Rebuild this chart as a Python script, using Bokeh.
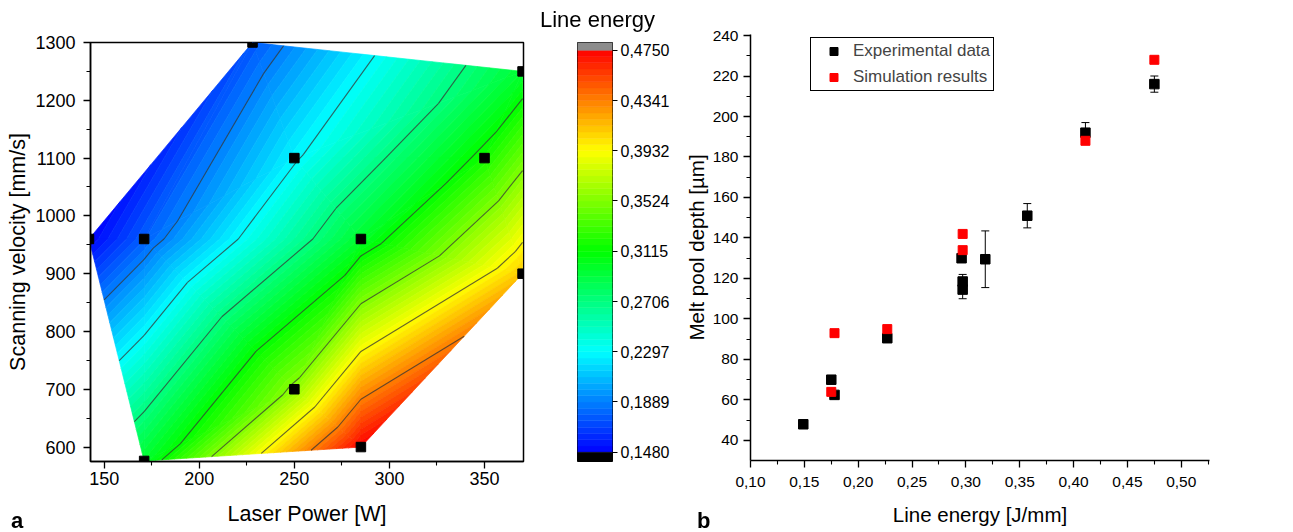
import numpy as np
from bokeh.plotting import figure
from bokeh.layouts import row, column
from bokeh.models import (Range1d, FixedTicker, Legend, LegendItem, Whisker, Div,
                          ColumnDataSource, CustomJSTickFormatter, TeeHead)
from bokeh.embed import file_html
from bokeh.resources import INLINE

FONT = "Liberation Sans"

# ---------------- data: panel a (process window) ----------------
laser_power = [142, 171, 228, 250, 350, 370, 370, 285, 250, 285, 171]
scan_velocity = [960, 960, 1300, 1100, 1100, 1250, 900, 960, 700, 600, 576]
point_energy = [0.148, 0.178, 0.175, 0.227, 0.318, 0.296, 0.411, 0.297, 0.357, 0.475, 0.297]
colorbar_ticks = [0.1480, 0.1889, 0.2297, 0.2706, 0.3115, 0.3524, 0.3932, 0.4341, 0.4750]
power_ticks = [150, 200, 250, 300, 350]
power_minor = [175, 225, 275, 325]
velocity_ticks = [600, 700, 800, 900, 1000, 1100, 1200, 1300]
velocity_minor = [650, 750, 850, 950, 1050, 1150, 1250]

# ---------------- data: panel b (melt pool depth) ----------------
exp_energy = [0.149, 0.175, 0.178, 0.227, 0.296, 0.297, 0.297, 0.318, 0.357, 0.411, 0.475]
exp_depth = [48, 70, 62.5, 90.5, 130, 118.5, 114.5, 129.5, 151, 192, 216]
exp_error = [1, 1.5, 1, 1.5, 2, 3.5, 4.5, 14, 6, 5, 4]
sim_energy = [0.175, 0.178, 0.227, 0.297, 0.297, 0.411, 0.475]
sim_depth = [64, 93, 95, 142, 134, 188, 228]
energy_ticks = [0.10, 0.15, 0.20, 0.25, 0.30, 0.35, 0.40, 0.45, 0.50]
energy_minor = [0.125, 0.175, 0.225, 0.275, 0.325, 0.375, 0.425, 0.475, 0.525]
depth_ticks = [40, 60, 80, 100, 120, 140, 160, 180, 200, 220, 240]
depth_minor = [50, 70, 90, 110, 130, 150, 170, 190, 210, 230]


# ---------------- helpers ----------------
def delaunay(px, py):
    px = np.asarray(px, float)
    py = np.asarray(py, float)
    u = (px - px.min()) / (px.max() - px.min())
    v = (py - py.min()) / (py.max() - py.min())
    pts = np.column_stack([u, v])
    n = len(pts)
    big = 1e3
    allp = np.vstack([pts, [[-big, -big], [big, -big], [0.5, big]]])
    tris = [(n, n + 1, n + 2)]

    def in_circle(t, p):
        a, b, c = allp[t[0]], allp[t[1]], allp[t[2]]
        m = np.array([[a[0] - p[0], a[1] - p[1], (a[0] - p[0]) ** 2 + (a[1] - p[1]) ** 2],
                      [b[0] - p[0], b[1] - p[1], (b[0] - p[0]) ** 2 + (b[1] - p[1]) ** 2],
                      [c[0] - p[0], c[1] - p[1], (c[0] - p[0]) ** 2 + (c[1] - p[1]) ** 2]])
        orient = (b[0] - a[0]) * (c[1] - a[1]) - (b[1] - a[1]) * (c[0] - a[0])
        return np.linalg.det(m) * orient > 1e-12

    for i in range(n):
        p = allp[i]
        bad = [t for t in tris if in_circle(t, p)]
        edges = {}
        for t in bad:
            for e in ((t[0], t[1]), (t[1], t[2]), (t[2], t[0])):
                k = tuple(sorted(e))
                edges[k] = edges.get(k, 0) + 1
        tris = [t for t in tris if t not in bad]
        for e, c in edges.items():
            if c == 1:
                tris.append((e[0], e[1], i))
    return [t for t in tris if max(t) < n]


def clip_poly(pts, zs, level, keep_above):
    out_p, out_z = [], []
    n = len(pts)
    for i in range(n):
        a, za = pts[i], zs[i]
        b, zb = pts[(i + 1) % n], zs[(i + 1) % n]
        ina = (za >= level) if keep_above else (za <= level)
        inb = (zb >= level) if keep_above else (zb <= level)
        if ina:
            out_p.append(a)
            out_z.append(za)
        if ina != inb:
            t = (level - za) / (zb - za)
            out_p.append((a[0] + t * (b[0] - a[0]), a[1] + t * (b[1] - a[1])))
            out_z.append(level)
    return out_p, out_z


ANCHORS = np.array([[0, 0, 255], [0, 255, 255], [0, 255, 0], [255, 255, 0], [255, 0, 0]], float)


def rainbow(t):
    s = min(max(t, 0.0), 1.0) * 4
    i = min(int(s), 3)
    f = s - i
    c = ANCHORS[i] * (1 - f) + ANCHORS[i + 1] * f
    return "#%02x%02x%02x" % tuple(int(round(x)) for x in c)


def style_axis(ax, font_size, label_size):
    ax.axis_line_color = "black"
    ax.axis_line_width = 1.5
    ax.major_tick_line_color = "black"
    ax.major_tick_line_width = 1.3
    ax.minor_tick_line_color = "black"
    ax.minor_tick_line_width = 1.1
    ax.major_tick_in = 0
    ax.major_tick_out = 7
    ax.minor_tick_in = 0
    ax.minor_tick_out = 4
    ax.major_label_text_font = FONT
    ax.major_label_text_font_size = font_size
    ax.major_label_text_color = "black"
    ax.axis_label_text_font = FONT
    ax.axis_label_text_font_size = label_size
    ax.axis_label_text_font_style = "normal"
    ax.axis_label_text_color = "black"


def fixed_text(text, left, top, size, weight="bold", width=30):
    html = ('<span style="font-family:\'Liberation Sans\',Arial,sans-serif;font-size:%dpx;'
            'font-weight:%s;line-height:%dpx;color:#000;white-space:nowrap;">%s</span>'
            % (size, weight, size, text))
    return Div(text=html, width=width, height=size + 2,
               styles={"position": "fixed", "left": "%dpx" % left, "top": "%dpx" % top,
                       "margin": "0", "padding": "0"})


# ---------------- panel a ----------------
lo_e, hi_e = colorbar_ticks[0], colorbar_ticks[-1]
levels = np.linspace(lo_e, hi_e, 65)
band_colors = [rainbow((k + 0.5) / 64) for k in range(64)]

tris = delaunay(laser_power, scan_velocity)
patch_xs, patch_ys, patch_c = [], [], []
line_xs, line_ys = [], []
for t in tris:
    tp = [(laser_power[i], scan_velocity[i]) for i in t]
    tz = [point_energy[i] for i in t]
    for k in range(64):
        p1_, z1_ = clip_poly(tp, tz, levels[k], True)
        if len(p1_) < 3:
            continue
        p2_, z2_ = clip_poly(p1_, z1_, levels[k + 1], False)
        if len(p2_) < 3:
            continue
        patch_xs.append([q[0] for q in p2_])
        patch_ys.append([q[1] for q in p2_])
        patch_c.append(band_colors[k])
    for L in colorbar_ticks[1:-1]:
        cross = []
        for a, b in ((0, 1), (1, 2), (2, 0)):
            za, zb = tz[a], tz[b]
            if (za - L) * (zb - L) < 0:
                s = (L - za) / (zb - za)
                cross.append((tp[a][0] + s * (tp[b][0] - tp[a][0]),
                              tp[a][1] + s * (tp[b][1] - tp[a][1])))
        if len(cross) == 2:
            line_xs.append([cross[0][0], cross[1][0]])
            line_ys.append([cross[0][1], cross[1][1]])

H = 531
p1 = figure(width=538, height=H, x_range=Range1d(142.8, 370.5), y_range=Range1d(575, 1300),
            output_backend="svg", toolbar_location=None,
            min_border_left=90, min_border_right=15, min_border_top=42, min_border_bottom=H - 461)
p1.grid.visible = False
p1.outline_line_color = "black"
p1.outline_line_width = 1.5
p1.outline_line_alpha = 1
p1.patches(xs=patch_xs, ys=patch_ys, fill_color=patch_c, line_color=patch_c, line_width=0.7)
p1.multi_line(xs=line_xs, ys=line_ys, line_color="#333333", line_alpha=0.75, line_width=1.1)
p1.scatter(laser_power, scan_velocity, marker="square", size=9.5, color="black")
p1.xaxis.ticker = FixedTicker(ticks=power_ticks, minor_ticks=power_minor)
p1.yaxis.ticker = FixedTicker(ticks=velocity_ticks, minor_ticks=velocity_minor)
p1.xaxis.axis_label = "Laser Power [W]"
p1.yaxis.axis_label = "Scanning velocity [mm/s]"
for ax in (p1.xaxis[0], p1.yaxis[0]):
    style_axis(ax, "18px", "21.5px")
p1.xaxis.major_label_standoff = 3
p1.yaxis.major_label_standoff = 8
p1.xaxis.axis_label_standoff = 14
p1.yaxis.axis_label_standoff = 2

# ---------------- colour bar ----------------
p2 = figure(width=142, height=H, x_range=Range1d(0, 1), y_range=Range1d(0.1405, 0.4813),
            output_backend="svg", toolbar_location=None, x_axis_location=None,
            y_axis_location="right",
            min_border_left=39, min_border_right=68, min_border_top=42, min_border_bottom=H - 461)
p2.grid.visible = False
p2.outline_line_color = "black"
p2.outline_line_width = 1
p2.quad(left=0, right=1, bottom=levels[:-1], top=levels[1:], fill_color=band_colors,
        line_color=band_colors, line_width=0.5)
p2.quad(left=[0, 0], right=[1, 1], bottom=[0.1405, hi_e], top=[lo_e, 0.4813],
        fill_color=["black", "#8c8c8c"], line_color=["black", "#8c8c8c"], line_width=0.5)
p2.yaxis.ticker = FixedTicker(ticks=colorbar_ticks, minor_ticks=[])
p2.yaxis.formatter = CustomJSTickFormatter(code="return tick.toFixed(4).replace('.', ',');")
style_axis(p2.yaxis[0], "16px", "16px")
p2.yaxis.axis_line_color = None
p2.yaxis.major_tick_out = 5
p2.yaxis.major_tick_line_width = 1
p2.yaxis.major_label_standoff = 3

# ---------------- panel b ----------------
p3 = figure(width=605, height=H, x_range=Range1d(0.10, 0.5262), y_range=Range1d(30.1, 240.5),
            output_backend="svg", toolbar_location=None,
            min_border_left=70, min_border_right=76, min_border_top=34, min_border_bottom=H - 460)
p3.grid.visible = False
p3.outline_line_color = None
src = ColumnDataSource(dict(x=exp_energy,
                            upper=[d + e for d, e in zip(exp_depth, exp_error)],
                            lower=[d - e for d, e in zip(exp_depth, exp_error)]))
wh = Whisker(base="x", upper="upper", lower="lower", source=src, line_color="black", line_width=1,
             upper_head=TeeHead(size=8, line_color="black", line_width=1),
             lower_head=TeeHead(size=8, line_color="black", line_width=1))
p3.add_layout(wh)
r_exp = p3.scatter(exp_energy, exp_depth, marker="square", size=9.5, color="black")
r_sim = p3.scatter(sim_energy, sim_depth, marker="square", size=9, color="#ff0000")
p3.xaxis.ticker = FixedTicker(ticks=energy_ticks, minor_ticks=energy_minor)
p3.yaxis.ticker = FixedTicker(ticks=depth_ticks, minor_ticks=depth_minor)
p3.xaxis.formatter = CustomJSTickFormatter(code="return tick.toFixed(2).replace('.', ',');")
p3.xaxis.axis_label = "Line energy [J/mm]"
p3.yaxis.axis_label = "Melt pool depth [µm]"
for ax in (p3.xaxis[0], p3.yaxis[0]):
    style_axis(ax, "15.5px", "20.5px")
p3.xaxis.major_label_standoff = 9
p3.yaxis.major_label_standoff = 5
p3.xaxis.axis_label_standoff = 13
p3.yaxis.axis_label_standoff = 2
legend = Legend(items=[LegendItem(label="Experimental data", renderers=[r_exp]),
                       LegendItem(label="Simulation results", renderers=[r_sim])],
                location=(60, 369), padding=3, spacing=6, label_height=20, glyph_height=20,
                glyph_width=39, label_standoff=0, border_line_color="black",
                border_line_width=1, border_line_alpha=1, background_fill_alpha=1,
                label_text_font=FONT, label_text_font_size="17px", margin=0)
p3.add_layout(legend)

div_a = fixed_text("a", 11, 510, 22)
div_title = fixed_text("Line energy", 540, 9, 22, weight="normal", width=130)
div_b = fixed_text("b", 697, 510, 22)

layout = row(column(p1, div_a), column(p2, div_title), column(p3, div_b), spacing=0)
open("out.html", "w").write(file_html(layout, INLINE))
